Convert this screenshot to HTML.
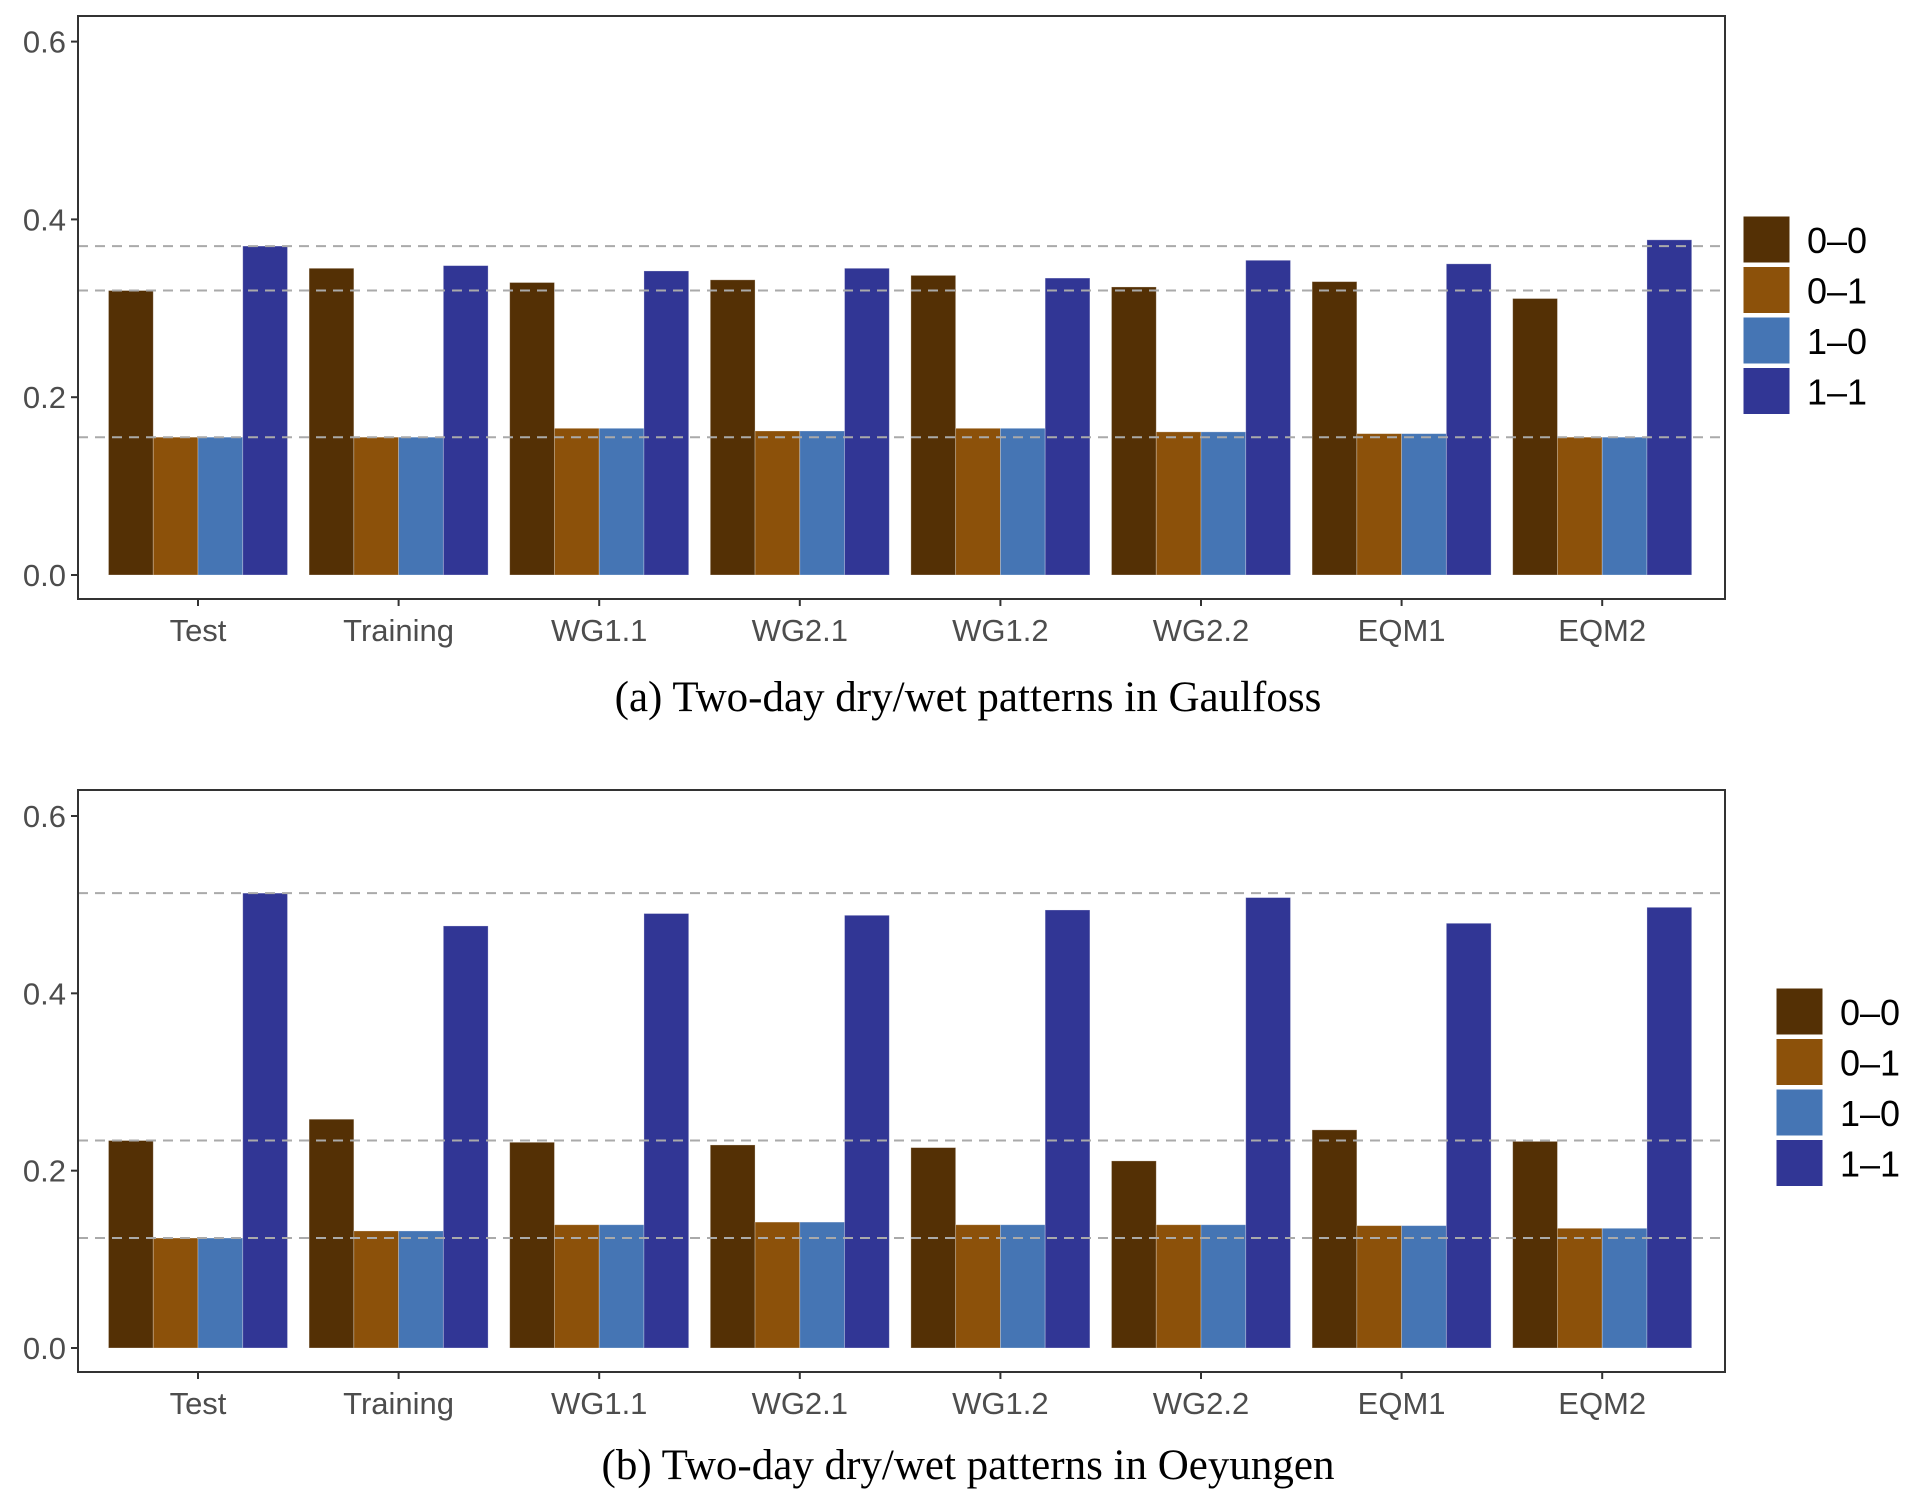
<!DOCTYPE html>
<html><head><meta charset="utf-8"><style>
body{margin:0;background:#fff}
svg{display:block}
</style></head><body>
<svg id="chart" width="1918" height="1507" viewBox="0 0 1918 1507" xmlns="http://www.w3.org/2000/svg"></svg>
<script>
const categories=["Test","Training","WG1.1","WG2.1","WG1.2","WG2.2","EQM1","EQM2"];
const seriesNames=["0\u20130","0\u20131","1\u20130","1\u20131"];
const colors=["#543005","#8c510a","#4575b4","#313695"];
const yTicks=[0,0.2,0.4,0.6];
const yTickLabels=["0.0","0.2","0.4","0.6"];
const topS00=[0.320,0.345,0.329,0.332,0.337,0.324,0.330,0.311];
const topS01=[0.155,0.155,0.165,0.162,0.165,0.161,0.159,0.155];
const topS10=[0.155,0.155,0.165,0.162,0.165,0.161,0.159,0.155];
const topS11=[0.370,0.348,0.342,0.345,0.334,0.354,0.350,0.377];
const topRefs=[0.370,0.320,0.155];
const botS00=[0.234,0.258,0.232,0.229,0.226,0.211,0.246,0.233];
const botS01=[0.124,0.132,0.139,0.142,0.139,0.139,0.138,0.135];
const botS10=[0.124,0.132,0.139,0.142,0.139,0.139,0.138,0.135];
const botS11=[0.513,0.476,0.490,0.488,0.494,0.508,0.479,0.497];
const botRefs=[0.513,0.234,0.124];
const captions=["(a) Two-day dry/wet patterns in Gaulfoss","(b) Two-day dry/wet patterns in Oeyungen"];

const NS="http://www.w3.org/2000/svg";
const svg=document.getElementById('chart');
function mk(tag,attrs,parent){const e=document.createElementNS(NS,tag);for(const k in attrs)e.setAttribute(k,attrs[k]);(parent||svg).appendChild(e);return e;}

function panel(cfg){
  const g=mk('g',{});
  
  
  const L=78,R=1725,T=cfg.top,B=cfg.bottom,y0=cfg.y0,y6=cfg.y6;
  const y=v=>y0+(y6-y0)*v/0.6;
  const x0=198,step=200.6,gw=179,bw=gw/4;
  const xc=i=>x0+i*step;
  const series=cfg.series;
  for(let i=0;i<categories.length;i++){
    for(let s=0;s<4;s++){
      const v=series[s][i];
      const r=mk('rect',{x:xc(i)-gw/2+s*bw,y:y(v),width:bw,height:y(0)-y(v),fill:colors[s],stroke:'#ffffff','stroke-opacity':0.35,'stroke-width':0.8},g);
      
      
    }
  }
  cfg.refs.forEach(v=>{
    const l=mk('line',{x1:L,x2:R,y1:y(v),y2:y(v),stroke:'#aaaaaa','stroke-width':2,'stroke-dasharray':'10,7'},g);
    
    
  });
  const fr=mk('rect',{x:L,y:T,width:R-L,height:B-T,fill:'none',stroke:'#333','stroke-width':2},g);
  
  
  yTicks.forEach((v,k)=>{
    mk('line',{x1:L-7,x2:L,y1:y(v),y2:y(v),stroke:'#333','stroke-width':2},g);
    const t=mk('text',{x:L-12,y:y(v)+11,'text-anchor':'end','font-size':31,fill:'#4d4d4d','font-family':'Liberation Sans, sans-serif'},g);
    t.textContent=yTickLabels[k];
    
    
  });
  categories.forEach((c,i)=>{
    mk('line',{x1:xc(i),x2:xc(i),y1:B,y2:B+7,stroke:'#333','stroke-width':2},g);
    const t=mk('text',{x:xc(i),y:B+42,'text-anchor':'middle','font-size':31,fill:'#4d4d4d','font-family':'Liberation Sans, sans-serif'},g);
    t.textContent=c;
    
    
  });
  const cap=mk('text',{x:968,y:cfg.capY,'text-anchor':'middle','font-size':43,fill:'#000','font-family':'Liberation Serif, serif'},g);
  cap.textContent=cfg.caption;
  
  
  const lg=mk('g',{},g);
  
  
  seriesNames.forEach((n,s)=>{
    const ky=cfg.legY+s*50.5;
    const r=mk('rect',{x:cfg.legX,y:ky,width:47,height:47,fill:colors[s],stroke:'#fff','stroke-width':1},lg);
    
    
    const t=mk('text',{x:cfg.legX+64,y:ky+37,'font-size':36,fill:'#000','font-family':'Liberation Sans, sans-serif'},lg);
    t.textContent=n;
    
    
  });
}
panel({name:'panel-gaulfoss',top:16,bottom:599,y0:575,y6:41.6,series:[topS00,topS01,topS10,topS11],refs:topRefs,caption:captions[0],capY:711,legX:1743,legY:216});
panel({name:'panel-oeyungen',top:790,bottom:1372,y0:1348,y6:816,series:[botS00,botS01,botS10,botS11],refs:botRefs,caption:captions[1],capY:1479,legX:1776,legY:988});
</script>
</body></html>
